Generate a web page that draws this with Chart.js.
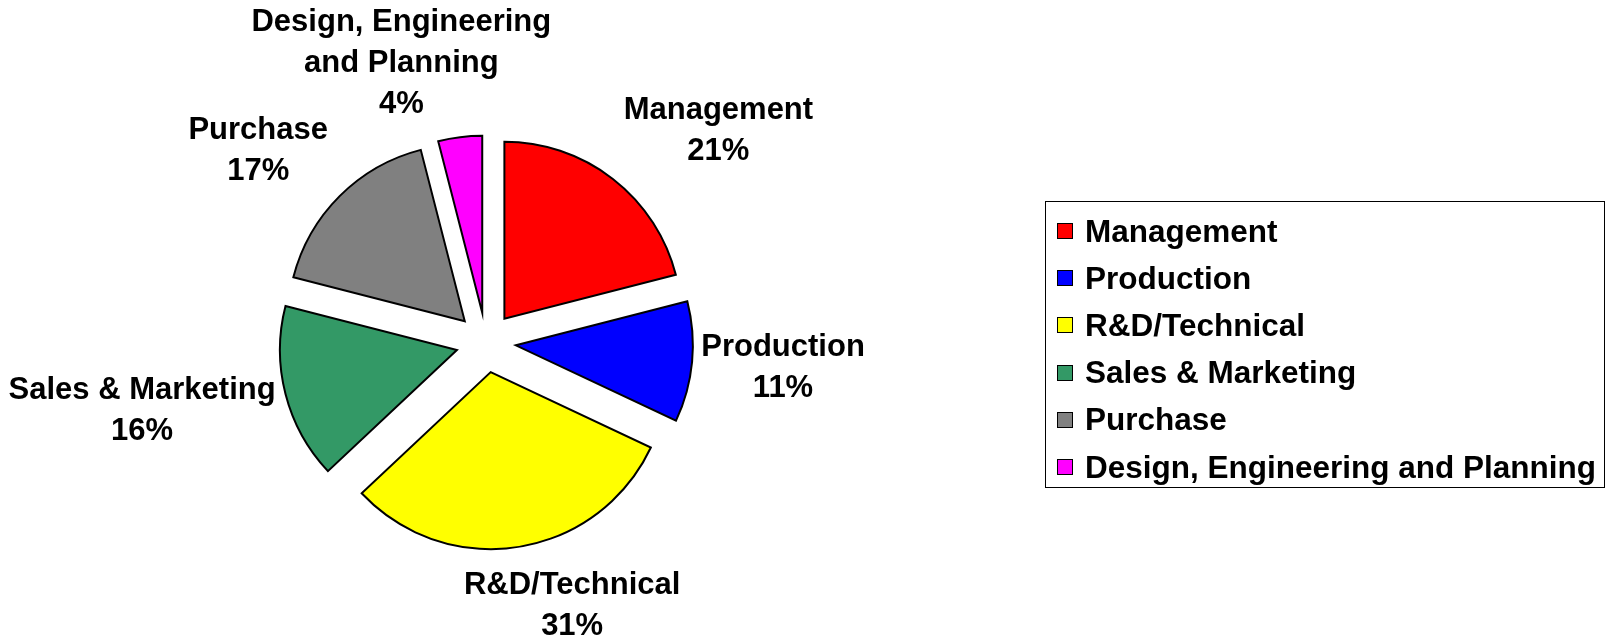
<!DOCTYPE html>
<html>
<head>
<meta charset="utf-8">
<script src="https://cdn.jsdelivr.net/npm/chart.js@4/dist/chart.umd.min.js"></script>
<style>
  html, body { margin: 0; padding: 0; background: #fff; }
  #wrap { position: relative; width: 1608px; height: 638px; overflow: hidden; }
  #c { position: absolute; left: 0; top: 0; }
  #legend {
    position: absolute; left: 1045px; top: 201px; width: 558px; height: 285px;
    border: 1.5px solid #000; box-sizing: content-box;
    font-family: "Liberation Sans", Arial, sans-serif; font-weight: bold; font-size: 31.5px; color: #000;
  }
  .row { position: absolute; left: 0; height: 40px; display: flex; align-items: center; white-space: nowrap; }
  .sw { width: 14px; height: 14px; border: 1.5px solid #000; margin-left: 11px; margin-right: 12px; flex: none; }
</style>
</head>
<body>
<div id="wrap">
  <canvas id="c" width="1608" height="638"></canvas>
  <div id="legend"></div>
</div>
<script>
// ---- data ----
const categories = ["Management", "Production", "R&D/Technical", "Sales & Marketing", "Purchase", "Design, Engineering and Planning"];
const shares = [21, 11, 31, 16, 17, 4];
const sliceColors = ["#FF0000", "#0000FF", "#FFFF00", "#339966", "#808080", "#FF00FF"];

const FONT = 'bold 31px "Liberation Sans", Arial, sans-serif';
const LINE_H = 41;

// exploded slice drawing (uniform radius, translated along mid-angle)
function explodedDraw(ctx) {
  const p = this.getProps(['x', 'y', 'startAngle', 'endAngle', 'outerRadius']);
  const o = this.options;
  const off = o.offset || 0;
  const mid = (p.startAngle + p.endAngle) / 2;
  ctx.save();
  ctx.translate(Math.cos(mid) * off, Math.sin(mid) * off);
  ctx.beginPath();
  ctx.moveTo(p.x, p.y);
  ctx.arc(p.x, p.y, p.outerRadius, p.startAngle, p.endAngle);
  ctx.closePath();
  ctx.fillStyle = o.backgroundColor;
  ctx.fill();
  ctx.lineWidth = o.borderWidth;
  ctx.strokeStyle = o.borderColor;
  ctx.lineJoin = 'miter';
  ctx.stroke();
  ctx.restore();
}

function wrapText(ctx, text, maxW) {
  const words = text.split(' ');
  const lines = [];
  let cur = '';
  for (const w of words) {
    const t = cur ? cur + ' ' + w : w;
    if (ctx.measureText(t).width > maxW && cur) { lines.push(cur); cur = w; }
    else cur = t;
  }
  if (cur) lines.push(cur);
  return lines;
}

const explodePlugin = {
  id: 'explode',
  beforeDatasetsDraw(chart) {
    chart.getDatasetMeta(0).data.forEach(el => { el.draw = explodedDraw; });
  }
};

const labelPlugin = {
  id: 'outLabels',
  afterDatasetsDraw(chart) {
    const ctx = chart.ctx;
    const meta = chart.getDatasetMeta(0);
    const ds = chart.data.datasets[0];
    const total = ds.data.reduce((a, b) => a + b, 0);
    ctx.save();
    ctx.font = FONT;
    ctx.fillStyle = '#000';
    ctx.textAlign = 'center';
    ctx.textBaseline = 'middle';
    meta.data.forEach((el, i) => {
      const p = el.getProps(['x', 'y', 'startAngle', 'endAngle', 'outerRadius']);
      const off = el.options.offset || 0;
      const mid = (p.startAngle + p.endAngle) / 2;
      const dx = Math.cos(mid), dy = Math.sin(mid);
      const D = p.outerRadius + off + 19 - 10 * Math.pow(dx, 4);
      const lines = wrapText(ctx, chart.data.labels[i], 330);
      lines.push(Math.round(ds.data[i] / total * 100) + '%');
      const w = Math.max(...lines.map(l => ctx.measureText(l).width));
      const h = lines.length * LINE_H - 8;
      const sx = Math.max(-1, Math.min(1, dx * 3));
      const sy = Math.max(-1, Math.min(1, 5 * dy * Math.abs(dy)));
      const cx = p.x + D * dx + sx * w / 2;
      const cy = p.y + D * dy + sy * h / 2 + 3;
      lines.forEach((l, k) => {
        ctx.fillText(l, cx, cy + (k - (lines.length - 1) / 2) * LINE_H);
      });
    });
    ctx.restore();
  }
};

const chart = new Chart(document.getElementById('c'), {
  type: 'pie',
  data: {
    labels: categories,
    datasets: [{
      data: shares,
      backgroundColor: sliceColors,
      borderColor: '#000',
      borderWidth: 2,
      offset: 30,
      hoverOffset: 0
    }]
  },
  options: {
    responsive: false,
    animation: false,
    radius: 177,
    layout: { padding: { left: 0, right: 636, top: 47, bottom: 0 } },
    plugins: { legend: { display: false }, tooltip: { enabled: false } },
    events: []
  },
  plugins: [explodePlugin, labelPlugin]
});

// HTML legend built from the same arrays
const legend = document.getElementById('legend');
categories.forEach((name, i) => {
  const row = document.createElement('div');
  row.className = 'row';
  row.style.top = (9 + i * 47.2) + 'px';
  const sw = document.createElement('span');
  sw.className = 'sw';
  sw.style.background = sliceColors[i];
  const tx = document.createElement('span');
  tx.textContent = name;
  row.appendChild(sw);
  row.appendChild(tx);
  legend.appendChild(row);
});
</script>
</body>
</html>
